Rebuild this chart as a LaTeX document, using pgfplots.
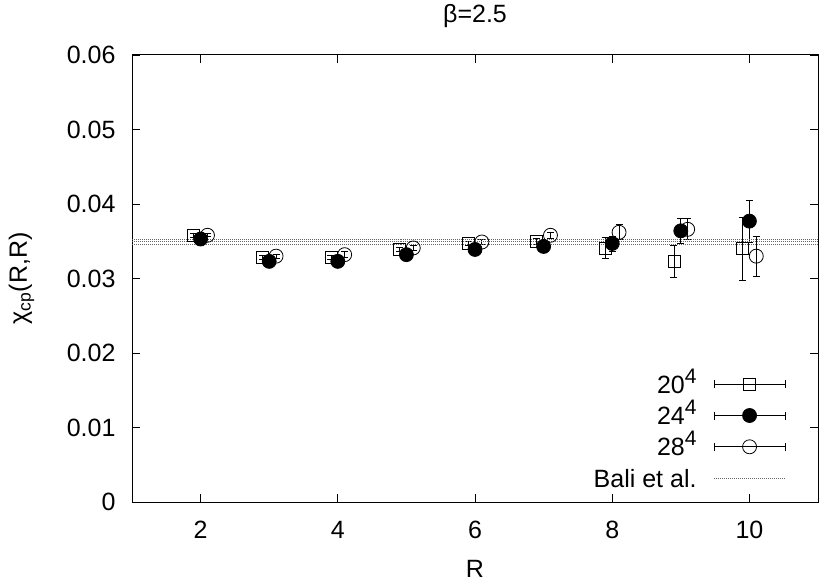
\documentclass[border=0pt]{standalone}
\usepackage{fontspec}
\setmainfont{Liberation Sans}
\usepackage{pgfplots}
\pgfplotsset{compat=1.18}
\newcommand{\gsup}[1]{\raisebox{10bp}{\fontsize{21bp}{21bp}\selectfont #1}}
\pgfplotsset{
  ebimg/.style={legend image code/.code={
     \draw[black,line width=1bp] (0bp,0bp)--(71bp,0bp) (0bp,-4bp)--(0bp,4bp) (71bp,-4bp)--(71bp,4bp);
     \draw[##1] plot coordinates {(35.5bp,0bp)};}},
  lineimg/.style={legend image code/.code={
     \draw[##1] (0bp,0bp)--(71bp,0bp);}},
}
\begin{document}
\fontsize{25bp}{30bp}\selectfont
\begin{tikzpicture}
\useasboundingbox (0,0) rectangle (826bp,584bp);
\begin{axis}[
  at={(132bp,82bp)}, anchor=south west,
  scale only axis, width=686bp, height=447bp,
  xmin=1, xmax=11, ymin=0, ymax=0.06,
  xtick={2,4,6,8,10},
  ytick={0,0.01,0.02,0.03,0.04,0.05,0.06},
  scaled y ticks=false,
  /pgf/number format/assume math mode=true,
  yticklabel style={/pgf/number format/fixed,/pgf/number format/precision=2, xshift=-8bp},
  xticklabel style={yshift=-11bp},
  tick align=inside,
  major tick length=8bp,
  tick style={black,line width=0.8bp},
  axis line style={black,line width=1bp},
  title={β=2.5},
  title style={at={(axis description cs:0.5,1.074)},anchor=center},
  xlabel={R},
  xlabel style={at={(axis description cs:0.5,-0.149)},anchor=center},
  ylabel={χ\textsubscript{cp}(R,R)},
  ylabel style={at={(axis description cs:-0.161,0.5)},anchor=center,rotate=0},
  legend cell align=right,
  legend plot pos=right,
  legend style={draw=none,fill=none,inner sep=0pt,
     at={(axis description cs:0.953,0.018)},anchor=south east,
     column sep=17bp,row sep=0pt,
     nodes={inner sep=0pt,text height=18bp,text depth=0bp,minimum height=31.3bp}},
  error bars/error bar style={black,line width=0.8bp},
  error bars/error mark options={rotate=90,mark size=3.5bp,line width=0.8bp},
]
\addplot[black,only marks,mark=square,mark size=6bp,line width=0.8bp,ebimg,
  error bars/.cd,y dir=both,y explicit]
 coordinates {
 (1.9,0.0358) +- (0,0.0003)
 (2.9,0.0328) +- (0,0.0003)
 (3.9,0.0328) +- (0,0.0003)
 (4.9,0.0339) +- (0,0.0003)
 (5.9,0.0347) +- (0,0.0003)
 (6.9,0.0350) +- (0,0.0004)
 (7.9,0.0341) +- (0,0.0014)
 (8.9,0.0323) +- (0,0.0022)
 (9.9,0.0340) +- (0,0.0042)
 };
\addlegendentry{20\gsup{4}}
\addplot[black,only marks,mark=*,mark size=7bp,line width=0.8bp,ebimg,
  error bars/.cd,y dir=both,y explicit]
 coordinates {
 (2,0.0353) +- (0,0.0002)
 (3,0.0323) +- (0,0.0002)
 (4,0.0323) +- (0,0.0002)
 (5,0.0332) +- (0,0.0002)
 (6,0.0339) +- (0,0.0002)
 (7,0.0343) +- (0,0.0003)
 (8,0.0347) +- (0,0.0010)
 (9,0.0364) +- (0,0.0017)
 (10,0.0377) +- (0,0.0028)
 };
\addlegendentry{24\gsup{4}}
\addplot[black,only marks,mark=o,mark size=7bp,line width=0.8bp,ebimg,
  error bars/.cd,y dir=both,y explicit]
 coordinates {
 (2.1,0.0358) +- (0,0.0002)
 (3.1,0.0330) +- (0,0.0003)
 (4.1,0.0332) +- (0,0.0004)
 (5.1,0.0341) +- (0,0.0003)
 (6.1,0.0349) +- (0,0.0003)
 (7.1,0.0358) +- (0,0.0004)
 (8.1,0.0362) +- (0,0.0010)
 (9.1,0.0366) +- (0,0.0014)
 (10.1,0.0330) +- (0,0.0027)
 };
\addlegendentry{28\gsup{4}}
\addplot[gray!80!black,densely dotted,line width=1bp,lineimg] coordinates {(1,0.0349) (11,0.0349)};
\addlegendentry{Bali et al.}
\addplot[gray!80!black,densely dotted,line width=1bp,forget plot] coordinates {(1,0.03525) (11,0.03525)};
\addplot[gray!80!black,densely dotted,line width=1bp,forget plot] coordinates {(1,0.03455) (11,0.03455)};
\end{axis}
\end{tikzpicture}
\end{document}
